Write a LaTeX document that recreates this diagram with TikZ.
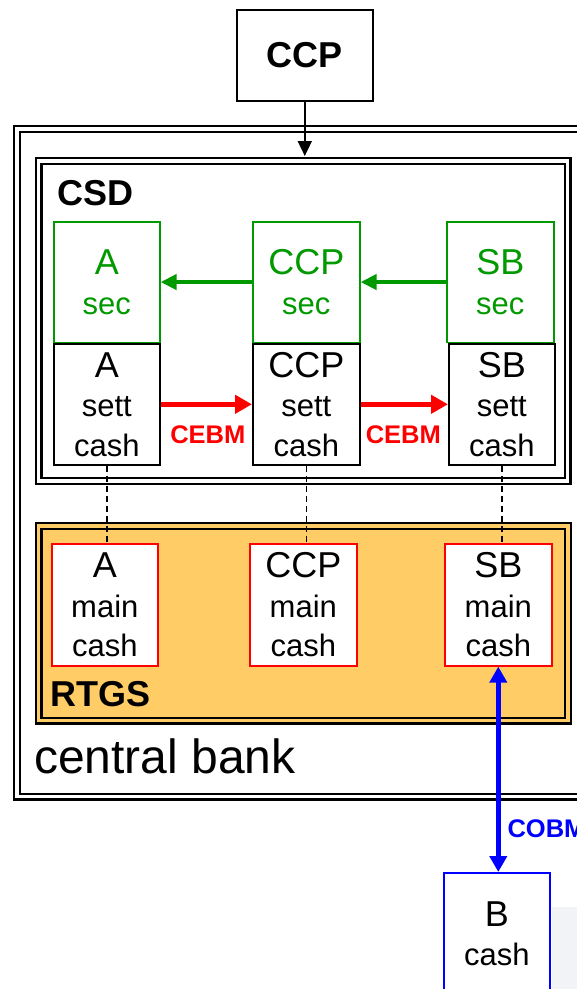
\documentclass[tikz,border=0pt]{standalone}
\usepackage{fontspec}
\setmainfont{Liberation Sans}
\usetikzlibrary{arrows.meta}
\definecolor{secgreen}{RGB}{0,153,0}
\definecolor{rtgsorange}{RGB}{255,204,102}
\definecolor{cebmred}{RGB}{255,0,0}
\definecolor{cobmblue}{RGB}{0,0,255}
\definecolor{faintgrey}{RGB}{242,243,247}
\newcommand{\bigname}[1]{{\fontsize{36}{39}\selectfont #1}}
\begin{document}
\begin{tikzpicture}[x=1pt,y=-1pt,
  box/.style={draw, line width=1.6pt, fill=white, inner sep=0pt, align=center,
    anchor=north west, font=\fontsize{31}{39.5}\selectfont},
  secbox/.style={box, draw=secgreen, text=secgreen},
  settbox/.style={box, draw=black},
  mainbox/.style={box, draw=cebmred},
  bbox/.style={box, draw=cobmblue},
  frame/.style={draw, double, line width=2.3pt, double distance=3.4pt, inner sep=0pt, anchor=north west},
  biglabel/.style={font=\fontsize{36}{39}\selectfont\bfseries, anchor=base west, inner sep=0pt},
  secarrow/.style={draw=secgreen, line width=4pt, -{Triangle[length=16pt,width=15pt]}},
  cebmarrow/.style={draw=cebmred, line width=5.5pt, -{Triangle[length=17pt,width=18pt]}},
  cobmarrow/.style={draw=cobmblue, line width=4.5pt, {Triangle[length=16pt,width=17pt]}-{Triangle[length=16pt,width=17pt]}},
  flowlabel/.style={font=\fontsize{25.5}{27}\selectfont\bfseries, inner sep=0pt},
  link/.style={line width=1.6pt, dash pattern=on 6pt off 4pt}
]
\useasboundingbox (0,0) rectangle (577,989);
\fill[white] (0,0) rectangle (577,989);

% faint background at bottom right
\fill[faintgrey] (552,907) rectangle (577,989);

% frames
\node[frame, minimum width=584pt, minimum height=667.5pt] (cb) at (16,128) {};
\node[frame, minimum width=529pt, minimum height=320pt] (csd) at (37.5,160) {};
\node[frame, fill=rtgsorange, double=rtgsorange, minimum width=529.5pt, minimum height=194.5pt] (rtgs) at (37.5,525) {};

% frame labels
\node[biglabel] (csdlabel) at (57,205) {CSD};
\node[biglabel] (rtgslabel) at (50,706) {RTGS};
\node[font=\fontsize{48}{52}\selectfont, anchor=base west, inner sep=0pt] (cblabel) at (34,773) {central bank};

% top CCP
\node[box, draw=black, minimum width=136pt, minimum height=91pt, font=\fontsize{36}{39}\selectfont\bfseries] (ccptop) at (236,9) {CCP};

% securities accounts
\node[secbox, minimum width=106pt, minimum height=120.5pt] (asec) at (53,221) {\bigname{A}\\sec};
\node[secbox, minimum width=107pt, minimum height=120.5pt] (ccpsec) at (252,221) {\bigname{CCP}\\sec};
\node[secbox, minimum width=107pt, minimum height=120.5pt] (sbsec) at (446,221) {\bigname{SB}\\sec};

% settlement cash accounts
\node[settbox, minimum width=106pt, minimum height=121pt] (asett) at (53,343) {\bigname{A}\\sett\\cash};
\node[settbox, minimum width=107pt, minimum height=121pt] (ccpsett) at (252,343) {\bigname{CCP}\\sett\\cash};
\node[settbox, minimum width=106pt, minimum height=121pt] (sbsett) at (448,343) {\bigname{SB}\\sett\\cash};

% main cash accounts
\node[mainbox, minimum width=106pt, minimum height=122pt] (amain) at (51,543) {\bigname{A}\\main\\cash};
\node[mainbox, minimum width=107pt, minimum height=122pt] (ccpmain) at (249,543) {\bigname{CCP}\\main\\cash};
\node[mainbox, minimum width=107pt, minimum height=122pt] (sbmain) at (444,543) {\bigname{SB}\\main\\cash};

% B cash
\node[bbox, minimum width=106pt, minimum height=122pt] (bcash) at (443,872) {\bigname{B}\\cash};

% connectors
\draw[line width=1.8pt, -{Triangle[length=15pt,width=14pt]}, shorten >=4pt] (ccptop.south) -- (ccptop.south |- csd.north);

\draw[secarrow] (ccpsec.west) -- (asec.east);
\draw[secarrow] (sbsec.west) -- (ccpsec.east);

\draw[cebmarrow] (asett.east) -- node[flowlabel, text=cebmred, midway, yshift=-30.5pt, xshift=1.5pt] (cebm1) {CEBM} (ccpsett.west);
\draw[cebmarrow] (ccpsett.east) -- node[flowlabel, text=cebmred, midway, yshift=-30.5pt, xshift=-1pt] (cebm2) {CEBM} (sbsett.west);

\draw[link] (asett.south) -- (asett.south |- amain.north);
\draw[link] (ccpsett.south) -- (ccpsett.south |- ccpmain.north);
\draw[link] (sbsett.south) -- (sbsett.south |- sbmain.north);

\draw[cobmarrow] (sbmain.south) -- node[flowlabel, text=cobmblue, pos=0.79, anchor=west, xshift=7pt] (cobm) {COBM} (sbmain.south |- bcash.north);
\end{tikzpicture}
\end{document}
